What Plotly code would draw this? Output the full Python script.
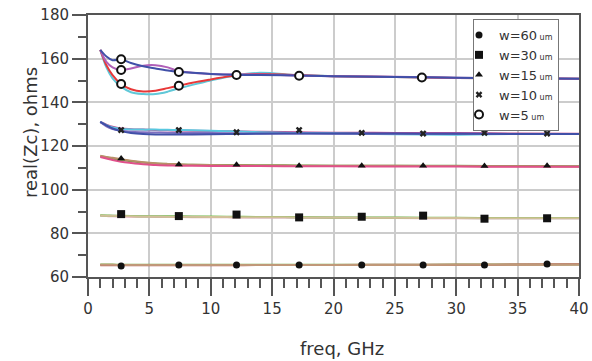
import plotly.graph_objects as go

freq = [1, 1.5, 2, 2.7, 3.5, 4.5, 5.5, 6.5, 7.4, 8.5, 10, 12, 14, 17, 20, 25, 30, 35, 40]

# w=5 um curves
w5_blue = [164, 161, 159.3, 159.7, 158, 156.5, 155.5, 154.6, 154, 153.5, 153, 152.6, 152.5, 152.3, 152, 151.6, 151.3, 151, 150.8]
w5_magenta = [164, 158.5, 156, 154.8, 155.5, 156.8, 157, 156, 154.2, 153.6, 153, 152.7, 152.8, 152.3, 152, 151.7, 151.3, 151, 150.8]
w5_red = [164, 157, 152.5, 148.4, 146, 145, 145.3, 146.5, 147.6, 149, 150.5, 152.3, 153, 152.5, 152, 151.6, 151.2, 151, 150.8]
w5_cyan = [164, 156, 151, 147.2, 144.6, 143.8, 143.8, 144.9, 146.4, 148, 150, 152.3, 153.5, 152.5, 152, 151.6, 151.2, 151, 150.8]

# w=10 um curves
w10_blue = [131, 129.5, 128, 126.8, 126, 125.5, 125.3, 125.3, 125.3, 125.3, 125.4, 125.5, 125.6, 125.7, 125.7, 125.7, 125.6, 125.5, 125.5]
w10_cyan = [131, 129.5, 128.5, 127.8, 127.6, 127.5, 127.5, 127.4, 127.3, 127.2, 127, 126.7, 126.3, 126, 125.8, 125.4, 125.2, 125.5, 125.5]
w10_purple = [131, 129, 127.8, 127, 126.5, 126.3, 126.2, 126.1, 126, 126, 125.9, 125.8, 125.7, 125.7, 125.6, 125.6, 125.6, 125.5, 125.5]
w10_magenta = [131, 129.8, 128.8, 128, 127.7, 127.5, 127.3, 127.2, 127.1, 127, 126.9, 126.7, 126.5, 126.3, 126.1, 126, 125.9, 125.7, 125.6]

# w=15 um curves
w15_tan = [115.5, 115, 114.6, 114, 113.3, 112.6, 112.1, 111.8, 111.6, 111.4, 111.3, 111.2, 111.1, 111, 111, 110.9, 110.8, 110.7, 110.6]
w15_pink = [115, 114.3, 113.6, 112.8, 112.2, 111.6, 111.3, 111.1, 111, 110.9, 110.8, 110.8, 110.8, 110.7, 110.7, 110.6, 110.6, 110.5, 110.5]
w15_green = [115.3, 114.8, 114.3, 113.6, 113, 112.4, 112, 111.7, 111.5, 111.4, 111.3, 111.3, 111.2, 111.1, 111, 111, 110.9, 110.8, 110.7]

# w=30 um curves
w30_green = [88.3, 88.2, 88.1, 88, 87.9, 87.8, 87.8, 87.8, 87.8, 87.7, 87.7, 87.6, 87.5, 87.4, 87.3, 87.2, 87.1, 87.0, 87.0]
w30_pink = [88, 87.9, 87.8, 87.7, 87.6, 87.6, 87.5, 87.5, 87.5, 87.4, 87.4, 87.3, 87.3, 87.2, 87.1, 87.0, 86.9, 86.9, 86.9]
w30_tan = [88.2, 88.1, 88.0, 87.9, 87.8, 87.7, 87.7, 87.6, 87.6, 87.6, 87.5, 87.4, 87.4, 87.3, 87.2, 87.1, 87.0, 86.9, 86.9]
w30_blue = [88.1, 88, 88, 87.9, 87.9, 87.8, 87.8, 87.7, 87.7, 87.6, 87.5, 87.5, 87.4, 87.3, 87.2, 87.1, 87.0, 86.9, 86.9]

# w=60 um curves
w60_tan = [65.6, 65.6, 65.6, 65.5, 65.5, 65.5, 65.5, 65.5, 65.5, 65.5, 65.5, 65.5, 65.5, 65.5, 65.5, 65.5, 65.6, 65.6, 65.7]
w60_red = [65.4, 65.4, 65.4, 65.4, 65.4, 65.4, 65.4, 65.4, 65.4, 65.4, 65.4, 65.4, 65.5, 65.5, 65.5, 65.6, 65.6, 65.7, 65.8]
w60_green = [65.7, 65.7, 65.7, 65.6, 65.6, 65.6, 65.6, 65.6, 65.6, 65.6, 65.6, 65.6, 65.6, 65.6, 65.6, 65.6, 65.7, 65.7, 65.7]

# markers
mk_x = [2.7, 7.4, 12.1, 17.2, 22.3, 27.3, 32.3, 37.4]
mk60 = [65.0, 65.5, 65.5, 65.5, 65.5, 65.5, 65.5, 65.9]
mk30 = [88.8, 87.9, 88.6, 87.3, 87.6, 88.1, 86.7, 86.9]
mk15 = [114.3, 111.5, 111.4, 111.0, 110.9, 110.9, 110.8, 110.9]
mk10 = [127.3, 127.3, 126.3, 127.3, 126.0, 125.7, 126.0, 125.7]
mk5_x = [2.7, 2.7, 2.7, 7.4, 7.4, 12.1, 17.2, 27.2]
mk5 = [159.7, 154.8, 148.4, 153.9, 147.6, 152.5, 152.2, 151.4]

fig = go.Figure()

def line(y, color, w=2):
    fig.add_trace(go.Scatter(x=freq, y=y, mode="lines", line=dict(color=color, width=w, shape="spline"),
                             showlegend=False, hoverinfo="skip"))

for y, c in [(w60_green, "#78b048"), (w60_red, "#c06060"), (w60_tan, "#c09878")]:
    line(y, c)
for y, c in [(w30_blue, "#a0d4e4"), (w30_pink, "#e8a8c0"), (w30_green, "#70c048"), (w30_tan, "#d0c098")]:
    line(y, c)
for y, c in [(w15_green, "#70a048"), (w15_tan, "#b89068"), (w15_pink, "#e0508a")]:
    line(y, c)
for y, c in [(w10_magenta, "#c04890"), (w10_cyan, "#58c8e0"), (w10_purple, "#8070c0"), (w10_blue, "#4050a8")]:
    line(y, c)
for y, c in [(w5_cyan, "#60c8d8"), (w5_red, "#e83838"), (w5_magenta, "#b060b8"), (w5_blue, "#4050a8")]:
    line(y, c)

um = "<span style='font-size:8px'> um</span>"
fig.add_trace(go.Scatter(x=mk_x, y=mk60, mode="markers", name="w=60" + um,
                         marker=dict(symbol="circle", size=7, color="#111")))
fig.add_trace(go.Scatter(x=mk_x, y=mk30, mode="markers", name="w=30" + um,
                         marker=dict(symbol="square", size=8, color="#111")))
fig.add_trace(go.Scatter(x=mk_x, y=mk15, mode="markers", name="w=15" + um,
                         marker=dict(symbol="triangle-up", size=7, color="#111")))
fig.add_trace(go.Scatter(x=mk_x, y=mk10, mode="markers", name="w=10" + um,
                         marker=dict(symbol="x", size=6, color="#222", line=dict(width=0))))
fig.add_trace(go.Scatter(x=mk5_x, y=mk5, mode="markers", name="w=5" + um,
                         marker=dict(symbol="circle", size=8, color="white", line=dict(color="#111", width=2))))

axis_common = dict(
    showline=True, linecolor="#555", linewidth=2, mirror=True, automargin=False,
    showgrid=True, gridcolor="#cccccc", gridwidth=2, zeroline=False,
    ticks="outside", tickcolor="#555", tickwidth=2, ticklabeloverflow="allow",
    tickfont=dict(family="DejaVu Sans", size=15, color="#333"),
)

fig.update_xaxes(range=[0, 40], dtick=5, tick0=0, ticklen=17,
                 minor=dict(dtick=1, ticks="outside", ticklen=9, tickcolor="#555", tickwidth=2, showgrid=False),
                 **axis_common)
fig.update_yaxes(range=[60, 180], dtick=20, tick0=60, ticklen=14,
                 minor=dict(dtick=10, ticks="outside", ticklen=8, tickcolor="#555", tickwidth=2, showgrid=False),
                 **axis_common)

PL, PR, PT, PB = 88, 579, 15, 277  # plot area in page pixels


def px(x):
    return (x - PL) / (PR - PL)


def py(y):
    return (PB - y) / (PB - PT)


fig.update_layout(
    width=592, height=361,
    margin=dict(l=PL, r=592 - PR, t=PT, b=361 - PB),
    paper_bgcolor="white", plot_bgcolor="white",
    font=dict(family="DejaVu Sans", color="#333"),
    legend=dict(x=px(473), y=py(19), xanchor="left", yanchor="top",
                bgcolor="white", bordercolor="#777", borderwidth=1,
                font=dict(family="DejaVu Sans", size=13, color="#333"),
                itemwidth=30, tracegroupgap=0, indentation=-15,
                entrywidth=50, entrywidthmode="pixels"),
    annotations=[
        dict(text="freq, GHz", xref="paper", yref="paper", x=px(342), y=py(348),
             showarrow=False, xanchor="center", yanchor="middle",
             font=dict(family="DejaVu Sans", size=18, color="#333")),
        dict(text="real(Zc), ohms", xref="paper", yref="paper", x=px(30), y=py(133),
             showarrow=False, xanchor="center", yanchor="middle", textangle=-90,
             font=dict(family="DejaVu Sans", size=18, color="#333")),
    ],
)

fig.write_html("out.html", config={"displayModeBar": False},
               post_script="document.body.style.margin='0';")
